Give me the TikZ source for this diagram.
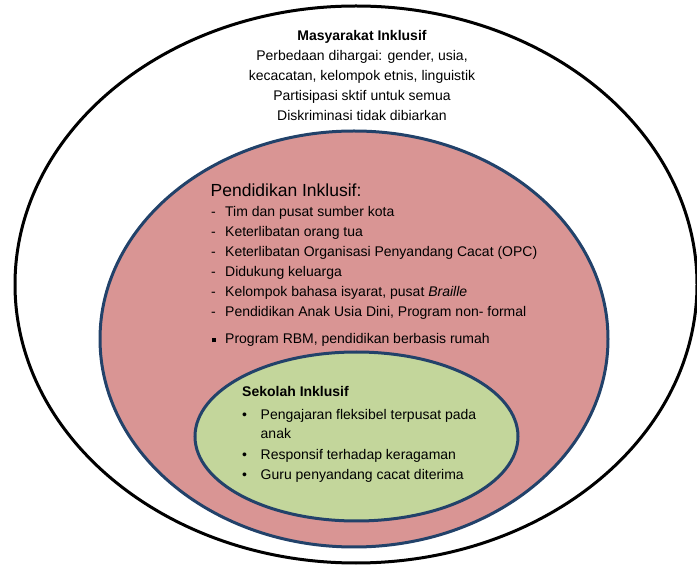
\documentclass[tikz,border=0pt]{standalone}
\usepackage{fontspec}
\setmainfont{Liberation Sans}
\usepackage{tikz}
\usetikzlibrary{positioning}

\definecolor{pinkfill}{HTML}{D99594}
\definecolor{greenfill}{HTML}{C3D69B}
\definecolor{navyline}{HTML}{22426A}

\tikzset{
  txt/.style={inner sep=0pt, font=\fontsize{14}{17}\selectfont},
  headtxt/.style={inner sep=0pt, font=\fontsize{14}{17}\selectfont\bfseries},
  nextc/.style={below=20pt of #1.base, anchor=base},
  nextl/.style={below=20pt of #1.base west, anchor=base west},
}

\begin{document}
\begin{tikzpicture}[x=1pt,y=-1pt]

  \useasboundingbox (0,0) rectangle (697,569);

  % the three circles
  \draw[line width=3pt] (356,284.5) ellipse [x radius=341, y radius=278.5];
  \draw[line width=3pt, draw=navyline, fill=pinkfill] (354,339) ellipse [x radius=254, y radius=208];
  \draw[line width=3pt, draw=navyline, fill=greenfill] (356.5,436.5) ellipse [x radius=161.5, y radius=84.5];

  % outer: masyarakat
  \node[headtxt] (masy) [anchor=base] at (362,41) {Masyarakat Inklusif};
  \node[txt] (m1) [nextc=masy] {Perbedaan dihargai: gender, usia,};
  \node[txt] (m2) [nextc=m1] {kecacatan, kelompok etnis, linguistik};
  \node[txt] (m3) [nextc=m2] {Partisipasi sktif untuk semua};
  \node[txt] (m4) [nextc=m3] {Diskriminasi tidak dibiarkan};

  % middle: pendidikan
  \node[txt, font=\fontsize{17.5}{20}\selectfont] (pend) [anchor=base west] at (210.5,196.5) {Pendidikan Inklusif:};
  \node[txt] (p1) [anchor=base west] at (211,217) {\makebox[14pt][l]{-}Tim dan pusat sumber kota};
  \node[txt] (p2) [nextl=p1] {\makebox[14pt][l]{-}Keterlibatan orang tua};
  \node[txt] (p3) [nextl=p2] {\makebox[14pt][l]{-}Keterlibatan Organisasi Penyandang Cacat (OPC)};
  \node[txt] (p4) [nextl=p3] {\makebox[14pt][l]{-}Didukung keluarga};
  \node[txt] (p5) [nextl=p4] {\makebox[14pt][l]{-}Kelompok bahasa isyarat, pusat \textit{Braille}};
  \node[txt] (p6) [nextl=p5] {\makebox[14pt][l]{-}Pendidikan Anak Usia Dini, Program non- formal};
  \node[txt] (p7) [below=26.5pt of p6.base west, anchor=base west] {\makebox[14pt][l]{\hspace{0.3pt}\rule[1pt]{4pt}{4pt}}Program RBM, pendidikan berbasis rumah};

  % inner: sekolah
  \node[headtxt] (sek) [anchor=base west] at (242,396.5) {Sekolah Inklusif};
  \node[txt] (s1) [anchor=base west] at (242,419.5) {\makebox[18.5pt][l]{•}Pengajaran fleksibel terpusat pada};
  \node[txt] (s1b) [anchor=base west] at (260.5,439) {anak};
  \node[txt] (s2) [anchor=base west] at (242,460) {\makebox[18.5pt][l]{•}Responsif terhadap keragaman};
  \node[txt] (s3) [nextl=s2] {\makebox[18.5pt][l]{•}Guru penyandang cacat diterima};

\end{tikzpicture}
\end{document}
